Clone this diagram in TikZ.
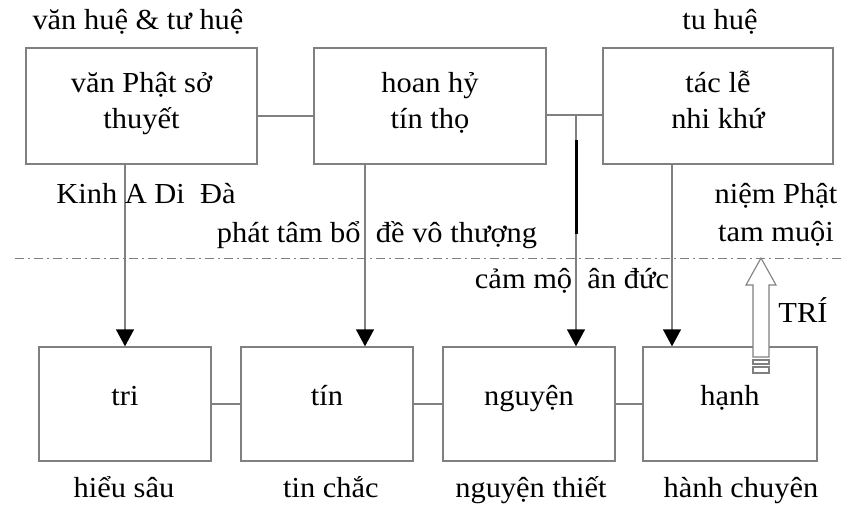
\documentclass[tikz,border=0pt]{standalone}
\usepackage{fontspec}
\setmainfont{Liberation Serif}[FakeStretch=1.05]
\usetikzlibrary{arrows.meta}

\begin{document}
\begin{tikzpicture}[x=1pt, y=-1pt,
    line/.style={draw=gray, line width=1.3pt},
    topbox/.style={line, minimum height=116pt, inner sep=0pt, align=center,
        text height=52pt, text depth=8pt, font=\fontsize{29}{36}\selectfont},
    lowbox/.style={line, minimum width=172pt, minimum height=114pt, inner sep=0pt,
        text height=12pt, text depth=10pt, font=\fontsize{29}{36}\selectfont},
    lbl/.style={anchor=base, inner sep=0pt, font=\fontsize{29}{36}\selectfont},
    flow/.style={line, -{Triangle[width=18pt, length=17pt, black]}}]
    \useasboundingbox[fill=white] (0,0) rectangle (843,506);
    % dash-dot divider
    \draw[gray, line width=1pt, dash pattern=on 9pt off 4pt on 2pt off 4pt] (15,258) -- (843,258);
    % upper boxes
    \node[topbox, minimum width=231pt] (vanphat) at (141.5,106) {văn Phật sở\\thuyết};
    \node[topbox, minimum width=232pt] (hoanhy) at (430,106) {hoan hỷ\\tín thọ};
    \node[topbox, minimum width=230pt] (tacle) at (718,106) {tác lễ\\nhi khứ};
    % lower boxes
    \node[lowbox] (tri) at (125,404) {tri};
    \node[lowbox] (tin) at (327,404) {tín};
    \node[lowbox] (nguyen) at (529,404) {nguyện};
    \node[lowbox, minimum width=174pt] (hanh) at (730,404) {hạnh};
    % links between boxes
    \draw[line] ([yshift=-10pt]vanphat.east) -- ([yshift=-10pt]hoanhy.west);
    \draw[line] ([yshift=-9pt]hoanhy.east) -- ([yshift=-9pt]tacle.west);
    \draw[line] (tri) -- (tin);
    \draw[line] (tin) -- (nguyen);
    \draw[line] (nguyen) -- (hanh);
    % arrows downward
    \coordinate (jn) at (576,115);
    \draw[flow] (vanphat.south -| tri.north) -- (tri.north);
    \draw[flow] (hoanhy.south -| 365,0) -- (tin.north -| 365,0);
    \draw[flow] (jn) -- (nguyen.north -| jn);
    \draw[flow] (tacle.south -| 672,0) -- (hanh.north -| 672,0);
    \draw[line width=3pt] (576,140) -- (576,234);
    % hollow arrow up
    \coordinate (tip) at (761,258);
    \filldraw[fill=white, draw=gray, line width=1.1pt] (tip) -- (776,285) -- (769,285) -- (769,357)
        -- (753,357) -- (753,285) -- (746,285) -- cycle;
    \filldraw[fill=white, draw=gray, line width=1.1pt] (753,360) rectangle (769,364);
    \filldraw[fill=white, draw=gray, line width=1.1pt] (753,367) rectangle (769,373);
    % labels
    \node[lbl] (lblvan) at (138,29) {văn huệ \& tư huệ};
    \node[lbl] (lbltu) at (720,29) {tu huệ};
    \node[lbl] (lblkinh) at (146,203) {Kinh\ A Di\ \ Đà};
    \node[lbl] (lblphat) at (377,242) {phát tâm bổ\ \ đề vô thượng};
    \node[lbl] (lblniem) at (776,203) {niệm Phật};
    \node[lbl] (lbltam) at (776,241) {tam muội};
    \node[lbl] (lblcam) at (572,288) {cảm mộ\ \ ân đức};
    \node[lbl] (lbltri) at (803,322) {TRÍ};
    \node[lbl] (lblhieu) at (124,497) {hiểu sâu};
    \node[lbl] (lbltin) at (331,497) {tin chắc};
    \node[lbl] (lblnguyen) at (531,497) {nguyện thiết};
    \node[lbl] (lblhanh) at (741,497) {hành chuyên};
\end{tikzpicture}
\end{document}
